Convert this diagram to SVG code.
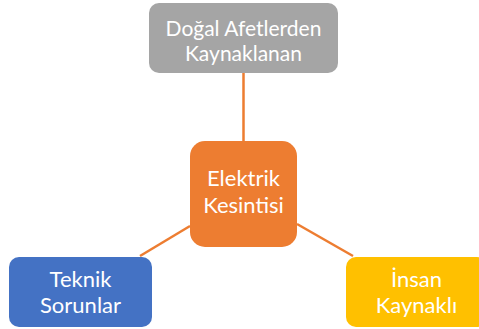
<svg xmlns="http://www.w3.org/2000/svg" width="479" height="329" viewBox="0 0 479 329">
  <style>
    .lbl { font-family: Lato, "Open Sans", "Liberation Sans", sans-serif; font-size: 22px; fill: #ffffff; text-anchor: middle; }
    .sm { font-size: 21px; }
    .link { stroke: #ed7d31; stroke-width: 2.5; fill: none; }
  </style>
  <rect width="479" height="329" fill="#ffffff"/>
  <g id="connectors">
    <line class="link" x1="243.5" y1="73" x2="243.5" y2="141"/>
    <line class="link" x1="190" y1="226" x2="140" y2="256"/>
    <line class="link" x1="297" y1="224" x2="353" y2="256"/>
  </g>
  <g id="node-dogal">
    <rect x="149" y="3" width="189" height="70" rx="10" fill="#a5a5a5"/>
    <text class="lbl sm" x="243.5" y="36">Doğal Afetlerden</text>
    <text class="lbl sm" x="243.5" y="61">Kaynaklanan</text>
  </g>
  <g id="node-elektrik">
    <rect x="190" y="141" width="107" height="106" rx="15" fill="#ed7d31"/>
    <text class="lbl" x="243.5" y="186">Elektrik</text>
    <text class="lbl" x="243.5" y="213">Kesintisi</text>
  </g>
  <g id="node-teknik">
    <rect x="9" y="257" width="143" height="70" rx="10" fill="#4472c4"/>
    <text class="lbl" x="80.5" y="287">Teknik</text>
    <text class="lbl" x="80.5" y="313">Sorunlar</text>
  </g>
  <g id="node-insan">
    <rect x="346" y="257" width="141" height="70" rx="10" fill="#ffc000"/>
    <text class="lbl" x="416.5" y="287">İnsan</text>
    <text class="lbl" x="416.5" y="313">Kaynaklı</text>
  </g>
</svg>
